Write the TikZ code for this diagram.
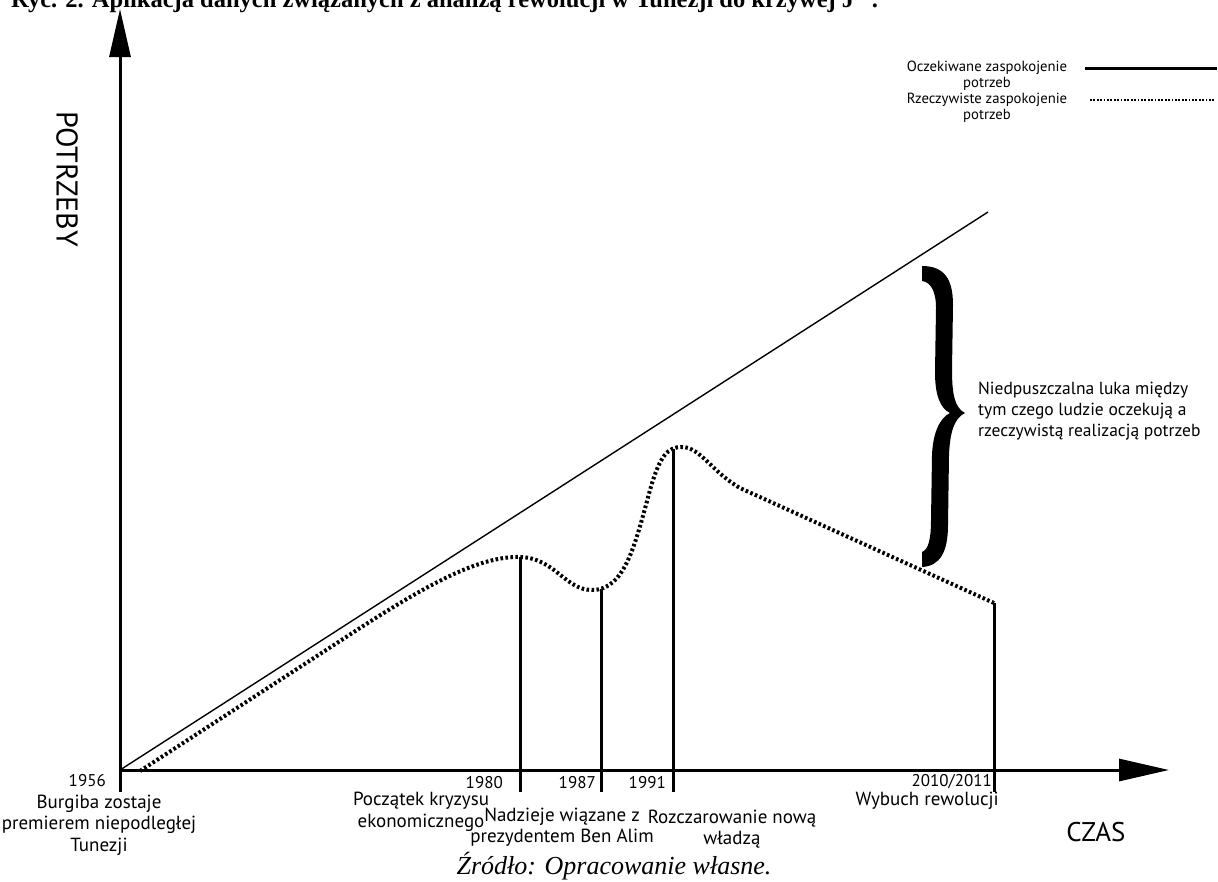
\documentclass[tikz,border=0pt]{standalone}
\usepackage{fontspec}
\setmainfont{Liberation Serif}
\newfontfamily\labfont{PT Sans}
\usetikzlibrary{arrows.meta}
\begin{document}
\begin{tikzpicture}[x=1pt,y=-1pt,
  axis/.style={line width=3pt},
  tickline/.style={line width=3pt},
  expect/.style={line width=1.4pt},
  actual/.style={line width=4pt, dash pattern=on 2.6pt off 2.4pt},
  lbl/.style={font=\labfont\fontsize{19}{21.5}\selectfont, align=center, inner sep=0pt},
  year/.style={font=\labfont\fontsize{17}{20}\selectfont, inner sep=0pt, anchor=east},
  small/.style={font=\labfont\fontsize{14.7}{15.8}\selectfont, align=center, inner sep=0pt},
  big/.style={font=\labfont\fontsize{30}{34}\selectfont, inner sep=0pt},
]
\useasboundingbox (0,0) rectangle (1218,881);

% title (cut by the page top)
\node[anchor=base west, inner sep=0pt, font=\bfseries\fontsize{24.5}{28}\selectfont] (title) at (11,7.5)
  {Ryc. 2. Aplikacja danych związanych z analizą rewolucji w Tunezji do krzywej J\textsuperscript{\phantom{80}}.};

% coordinates
\coordinate (O) at (120,770);
\coordinate (Ybot) at (120,792);
\coordinate (Ytop) at (120,9);
\coordinate (Xend) at (1169,770);
\coordinate (Eend) at (988,212);
\coordinate (Astart) at (140,771);
\coordinate (P80) at (520,557);
\coordinate (P87) at (601,589);
\coordinate (P91) at (673,449);
\coordinate (P10) at (994,603);
\coordinate (B80) at (520,792);
\coordinate (B87) at (601,792);
\coordinate (B91) at (673,792);
\coordinate (B10) at (994,792);

% axes
\draw[axis,-{Triangle[length=48pt,width=21pt]}] (Ybot) -- (Ytop);
\draw[axis,-{Triangle[length=50pt,width=22pt]}] (O) -- (Xend);

% expected line
\draw[expect] (O) -- (Eend);

% actual curve
\draw[actual] (Astart) -- (360,628) .. controls (430,583) and (480,556) .. (P80)
  .. controls (555,558) and (565,590) .. (592,590)
  .. controls (625,590) and (635,545) .. (650,490)
  .. controls (660,455) and (668,447) .. (682,447)
  .. controls (700,447) and (712,472) .. (740,488) -- (P10);

% ticks
\draw[tickline] (P80) -- (B80);
\draw[tickline] (P87) -- (B87);
\draw[tickline] (P91) -- (B91);
\draw[tickline] (P10) -- (B10);

% axis labels
\node[big, rotate=-90] (potrzeby) at (67,179) {POTRZEBY};
\node[big, font=\labfont\fontsize{27}{30}\selectfont] (czas) at (1096,832) {CZAS};

% year labels
\node[year] (y56) at (106,781) {1956};
\node[year] (y80) at (503,783) {1980};
\node[year] (y87) at (596,783) {1987};
\node[year] (y91) at (666,783) {1991};
\node[year] (y10) at (992,782) {2010/2011};

% event labels
\node[lbl] (e56) at (99,825) {Burgiba zostaje\\premierem niepodległej\\Tunezji};
\node[lbl] (e80) at (421,812) {Początek kryzysu\\ekonomicznego};
\node[lbl] (e87) at (562,827) {Nadzieje wiązane z\\prezydentem Ben Alim};
\node[lbl] (e91) at (732,829) {Rozczarowanie nową\\władzą};
\node[lbl, anchor=east] (e10) at (999,801) {Wybuch rewolucji};

% brace
\fill (922,266) .. controls (945,266) and (953,280) .. (953,305) -- (952,370)
  .. controls (952,395) and (955,408) .. (965,413)
  .. controls (955,418) and (950,430) .. (949,455) -- (948,525)
  .. controls (948,552) and (940,566) .. (922,567) -- (922,552)
  .. controls (928,550) and (931,540) .. (931,520) -- (932,455)
  .. controls (933,432) and (940,418) .. (950,413)
  .. controls (940,408) and (935,395) .. (935,372) -- (936,308)
  .. controls (936,290) and (930,282) .. (922,281) -- cycle;
\node[lbl, font=\labfont\fontsize{17.5}{21}\selectfont, align=left, anchor=west] (gap) at (978,411)
  {Niedpuszczalna luka między\\tym czego ludzie oczekują a\\rzeczywistą realizacją potrzeb};

% legend
\node[small] (leg1) at (987,76) {Oczekiwane zaspokojenie\\potrzeb};
\node[small] (leg2) at (987,108) {Rzeczywiste zaspokojenie\\potrzeb};
\coordinate (l1a) at (1085,68); \coordinate (l1b) at (1217,68);
\coordinate (l2a) at (1090,100); \coordinate (l2b) at (1215,100);
\draw[line width=3pt] (l1a) -- (l1b);
\draw[line width=2.5pt, dash pattern=on 1.8pt off 1.6pt] (l2a) -- (l2b);

% caption
\node[inner sep=0pt, font=\itshape\fontsize{26}{30}\selectfont] (caption) at (614,866) {Źródło: Opracowanie własne.};
\end{tikzpicture}
\end{document}
